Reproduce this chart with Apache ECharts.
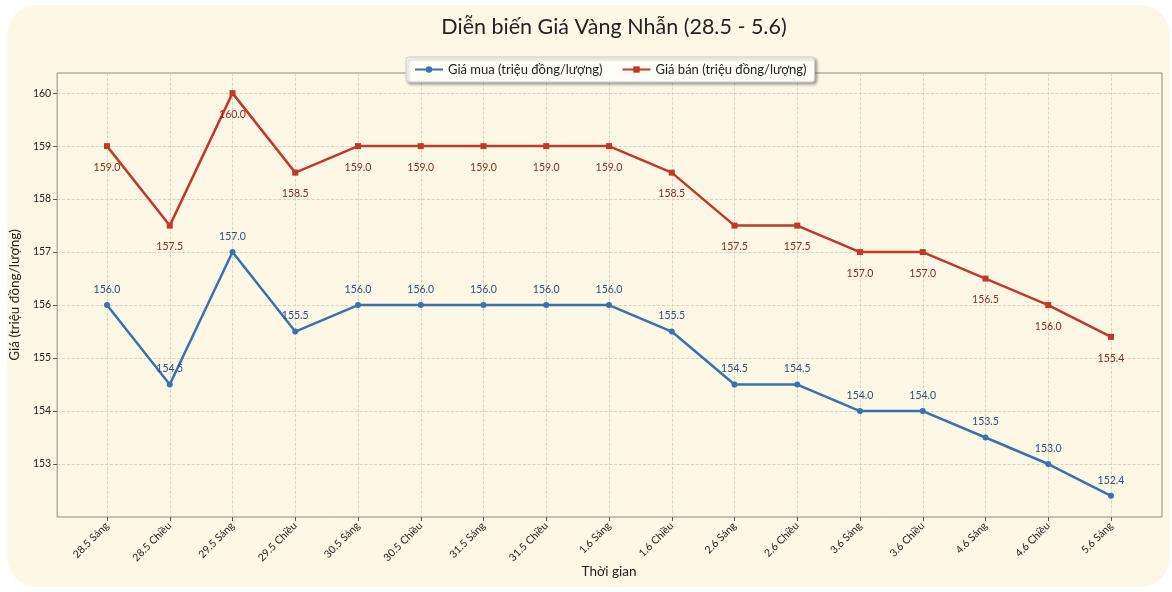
<!DOCTYPE html>
<html><head><meta charset="utf-8">
<script src="https://cdn.jsdelivr.net/npm/echarts@6/dist/echarts.min.js"></script>
<style>html,body{margin:0;padding:0;background:#ffffff;}#c{width:1172px;height:592px;}</style>
</head><body><div id="c"></div>
<script>
const categories = ['28.5 Sáng','28.5 Chiều','29.5 Sáng','29.5 Chiều','30.5 Sáng','30.5 Chiều','31.5 Sáng','31.5 Chiều','1.6 Sáng','1.6 Chiều','2.6 Sáng','2.6 Chiều','3.6 Sáng','3.6 Chiều','4.6 Sáng','4.6 Chiều','5.6 Sáng'];
const buyPrices = [156.0,154.5,157.0,155.5,156.0,156.0,156.0,156.0,156.0,155.5,154.5,154.5,154.0,154.0,153.5,153.0,152.4];
const sellPrices = [159.0,157.5,160.0,158.5,159.0,159.0,159.0,159.0,159.0,158.5,157.5,157.5,157.0,157.0,156.5,156.0,155.4];
const yTicks = [153,154,155,156,157,158,159,160];
const titleText = 'Diễn biến Giá Vàng Nhẫn (28.5 - 5.6)';
const buyName = 'Giá mua (triệu đồng/lượng)';
const sellName = 'Giá bán (triệu đồng/lượng)';

const FONT = 'Lato';
const yMin = 152, yMax = 160.38;
const chart = echarts.init(document.getElementById('c'));
const gridColor = '#cfcbbb';
chart.setOption({
  animation: false,
  backgroundColor: 'transparent',
  textStyle: {fontFamily: FONT},
  graphic: [{type:'rect', z:-10, silent:true, shape:{x:7,y:5,width:1163,height:582,r:30}, style:{fill:'#fdf8e6'}}],
  title: {text: titleText, left: 609, textAlign: 'center', top: 11, textStyle:{fontFamily:FONT, fontSize:21.5, fontWeight:'normal', color:'#222'}},
  legend: {
    top: 57, left: 406, itemWidth: 28, itemHeight: 8, itemGap: 19,
    padding: [6, 8, 6, 8],
    backgroundColor: '#fffdf5', borderColor: '#cccccc', borderWidth: 1, borderRadius: 3,
    shadowBlur: 3, shadowColor: 'rgba(0,0,0,0.35)', shadowOffsetX: 2, shadowOffsetY: 2,
    textStyle: {fontFamily: FONT, fontSize: 13, color: '#222'},
    data: [buyName, sellName]
  },
  grid: [
    {left: 57, right: 10, top: 73, bottom: 75, show: true, borderColor: '#8c8c80', borderWidth: 1, backgroundColor: 'transparent', containLabel: false},
    {left: 107, right: 61, top: 73, bottom: 75, containLabel: false}
  ],
  xAxis: [
    {gridIndex: 0, type: 'value', min: 0, max: 1, show: false},
    {gridIndex: 1, type: 'category', data: categories, boundaryGap: false,
     axisLine: {show: false},
     axisTick: {show: true, length: 4, lineStyle: {color: '#555'}},
     splitLine: {show: true, lineStyle: {color: gridColor, type: 'dashed', width: 0.8}},
     axisLabel: {rotate: 45, fontSize: 10.5, color: '#222', margin: 7, fontFamily: FONT, interval: 0},
     name: 'Thời gian', nameLocation: 'middle', nameGap: 48, nameMoveOverlap: false,
     nameTextStyle: {fontSize: 13.5, color: '#222', fontFamily: FONT}}
  ],
  yAxis: [
    {gridIndex: 0, type: 'value', min: yMin, max: yMax, interval: 1,
     axisLine: {show: false},
     axisTick: {show: true, length: 4, lineStyle: {color: '#555'}, customValues: yTicks},
     axisLabel: {fontSize: 10.5, color: '#222', margin: 6, fontFamily: FONT, customValues: yTicks,
                 formatter: v => (yTicks.indexOf(v) >= 0 ? String(v) : '')},
     splitLine: {show: true, lineStyle: {color: gridColor, type: 'dashed', width: 0.8}},
     name: 'Giá (triệu đồng/lượng)', nameLocation: 'middle', nameGap: 34,
     nameTextStyle: {fontSize: 13.5, color: '#222', fontFamily: FONT}},
    {gridIndex: 1, type: 'value', min: yMin, max: yMax, show: false, splitLine: {show: false}}
  ],
  series: [
    {name: buyName, type: 'line', xAxisIndex: 1, yAxisIndex: 1, data: buyPrices,
     symbol: 'circle', symbolSize: 6, color: '#3a72ad',
     lineStyle: {width: 2.5, color: '#3a72ad'}, itemStyle: {color: '#3a72ad'},
     label: {show: true, position: 'top', distance: 7, fontSize: 10.5, color: '#2d4f7f', fontFamily: FONT,
             formatter: p => p.value.toFixed(1)}},
    {name: sellName, type: 'line', xAxisIndex: 1, yAxisIndex: 1, data: sellPrices,
     symbol: 'rect', symbolSize: 6, color: '#c0392b',
     lineStyle: {width: 2.5, color: '#c0392b'}, itemStyle: {color: '#c0392b'},
     label: {show: true, position: 'bottom', distance: 13, fontSize: 10.5, color: '#8e2a1f', fontFamily: FONT,
             formatter: p => p.value.toFixed(1)}}
  ]
});
</script></body></html>
